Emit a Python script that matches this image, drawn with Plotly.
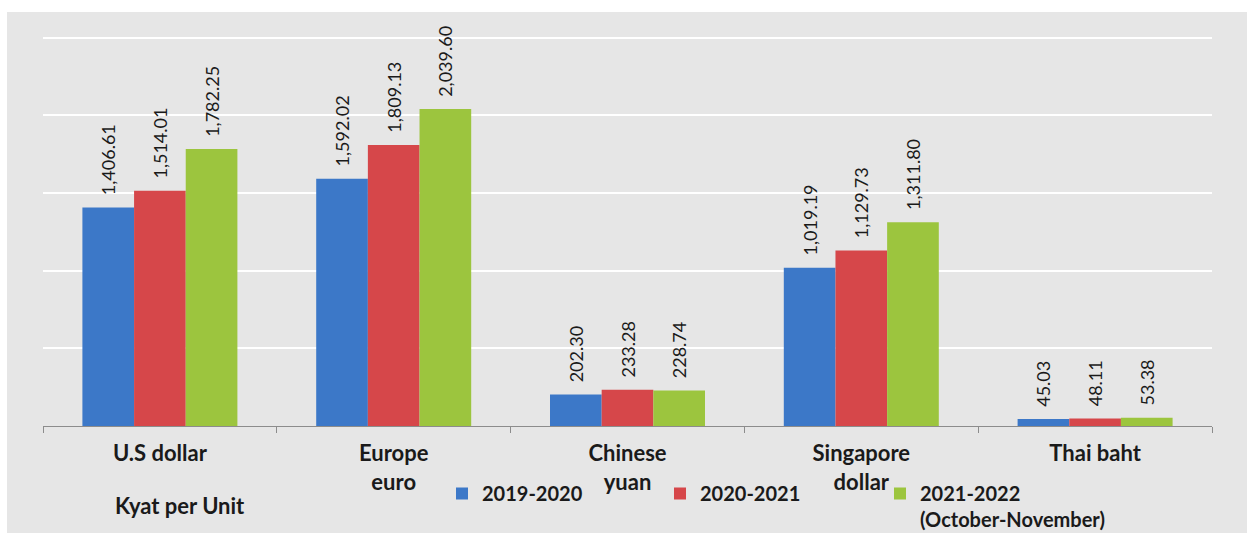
import plotly.graph_objects as go

categories = ["U.S dollar", "Europe<br>euro", "Chinese<br>yuan", "Singapore<br>dollar", "Thai baht"]
series_names = ["2019-2020", "2020-2021", "2021-2022<br>(October-November)"]
v_2019_2020 = [1406.61, 1592.02, 202.30, 1019.19, 45.03]
v_2020_2021 = [1514.01, 1809.13, 233.28, 1129.73, 48.11]
v_2021_2022 = [1782.25, 2039.60, 228.74, 1311.80, 53.38]
colors = ["#3c78c8", "#d6474a", "#9cc53e"]
unit_label = "Kyat per Unit"

W, H = 1253, 533
ML, MR, MT, MB = 43, 41, 36, 107
PW = W - ML - MR
PH = H - MT - MB

FONT = "Lato"
legend_ids = ["legend", "legend2", "legend3"]
legend_text_x = [482, 700, 920]

fig = go.Figure()
for name, vals, col, lid in zip(series_names, [v_2019_2020, v_2020_2021, v_2021_2022], colors, legend_ids):
    fig.add_trace(go.Bar(
        x=categories, y=vals, name=name, legend=lid,
        marker=dict(color=col, line=dict(width=0)),
        text=["\u00a0\u00a0" + f"{v:,.2f}" for v in vals],
        textposition="outside", textangle=-90, constraintext="none",
        textfont=dict(family=FONT, size=18, color="#1a1a1a"),
        cliponaxis=False, hoverinfo="skip",
    ))

def px_x(p):
    return (p - ML) / PW

def px_y(p):
    return (H - MB - p) / PH

def legend_cfg(text_x):
    return dict(
        orientation="h", xref="container", yref="container",
        x=(text_x - 40) / W, y=1 - 474 / H, xanchor="left", yanchor="top",
        valign="top",
        font=dict(family=FONT, size=20, color="#1a1a1a", weight="bold"),
        bgcolor="rgba(0,0,0,0)", itemclick=False,
    )

fig.update_layout(
    width=W, height=H,
    margin=dict(l=ML, r=MR, t=MT, b=MB, autoexpand=False),
    barmode="group", bargap=0.337, bargroupgap=0,
    paper_bgcolor="white", plot_bgcolor="rgba(0,0,0,0)",
    font=dict(family=FONT, color="#1a1a1a"),
    showlegend=True,
    legend=legend_cfg(legend_text_x[0]),
    legend2=legend_cfg(legend_text_x[1]),
    legend3=legend_cfg(legend_text_x[2]),
    xaxis=dict(
        showline=True, linecolor="#8c8c8c", linewidth=1,
        ticks="outside", tickson="boundaries", ticklen=6, tickcolor="#8c8c8c",
        tickfont=dict(family=FONT, size=22, color="#1a1a1a", weight="bold"),
        ticklabelstandoff=8, showgrid=False,
    ),
    yaxis=dict(
        range=[0, 2510], tickvals=[500, 1000, 1500, 2000, 2500], showticklabels=False,
        showgrid=True, gridcolor="white", gridwidth=2,
        zeroline=False, showline=False,
    ),
    shapes=[dict(
        type="rect", xref="paper", yref="paper", layer="below",
        x0=px_x(7), x1=px_x(1247), y0=px_y(H + 5), y1=px_y(12),
        fillcolor="#e6e6e6", line=dict(width=0),
    )],
    annotations=[dict(
        text=unit_label, xref="paper", yref="paper",
        x=px_x(113), y=px_y(505), xanchor="left", yanchor="middle",
        showarrow=False,
        font=dict(family=FONT, size=22, color="#1a1a1a", weight="bold"),
    )],
)

fig.write_html(
    "out.html",
    config={"displayModeBar": False, "staticPlot": True},
    post_script="document.body.style.margin='0';document.body.style.overflow='hidden';",
)
